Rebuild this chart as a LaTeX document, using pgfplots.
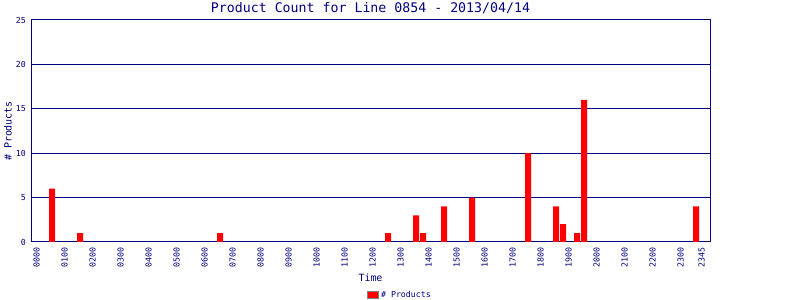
\documentclass[border=0pt]{standalone}
\usepackage{pgfplots}
\pgfplotsset{compat=1.18}
\usepackage{fontspec}
\newfontfamily\mono{DejaVu Sans Mono}
\definecolor{navy}{RGB}{0,0,128}
\begin{document}
\begin{tikzpicture}
\begin{axis}[
  at={(31bp,58bp)}, anchor=south west,
  scale only axis, width=679bp, height=222bp,
  xmin=-1, xmax=96, ymin=0, ymax=25,
  ytick={0,5,10,15,20,25},
  xtick={0,4,8,12,16,20,24,28,32,36,40,44,48,52,56,60,64,68,72,76,80,84,88,92,95},
  xticklabels={0000,0100,0200,0300,0400,0500,0600,0700,0800,0900,1000,1100,1200,1300,1400,1500,1600,1700,1800,1900,2000,2100,2200,2300,2345},
  major tick length=0pt,
  ymajorgrids, grid style={navy, line width=1bp},
  axis line style={navy, line width=1bp},
  /pgf/number format/assume math mode=true,
  xticklabel style={xshift=-1.5bp, yshift=-4bp, rotate=90, anchor=east, font=\mono\fontsize{8.3}{9}\selectfont, text=navy, inner sep=1bp},
  yticklabel style={font=\mono\fontsize{8.3}{9}\selectfont, text=navy, inner sep=0pt, xshift=-5bp},
  title={Product Count for Line 0854 - 2013/04/14},
  every axis title/.style={at={(0.5,1)}, anchor=center, yshift=12bp, font=\mono\fontsize{13.3}{15}\selectfont, text=navy},
  xlabel={Time},
  every axis x label/.style={at={(0.5,0)}, anchor=center, yshift=-36bp, font=\mono\fontsize{10}{12}\selectfont, text=navy},
  ylabel={\# Products},
  every axis y label/.style={at={(0,0.5)}, xshift=-23bp, rotate=90, anchor=center, font=\mono\fontsize{10}{12}\selectfont, text=navy},
  legend style={at={(0.5434,0)}, anchor=center, yshift=-53bp, draw=none, fill=none, font=\mono\fontsize{8.3}{9}\selectfont, text=navy, inner sep=0pt},
  legend image code/.code={\draw[fill=red, draw=gray, line width=1bp] (0bp,-3.5bp) rectangle (11bp,3.5bp);},
]
\addplot[ybar, bar width=6bp, fill=red, draw=none] coordinates {
(2,6) (6,1) (26,1) (50,1) (54,3) (55,1) (58,4) (62,5) (70,10) (74,4) (75,2) (77,1) (78,16) (94,4)
};
\addlegendentry{\# Products}
\end{axis}
\pgfresetboundingbox
\path (0,0) rectangle (800bp,300bp);
\end{tikzpicture}
\end{document}
